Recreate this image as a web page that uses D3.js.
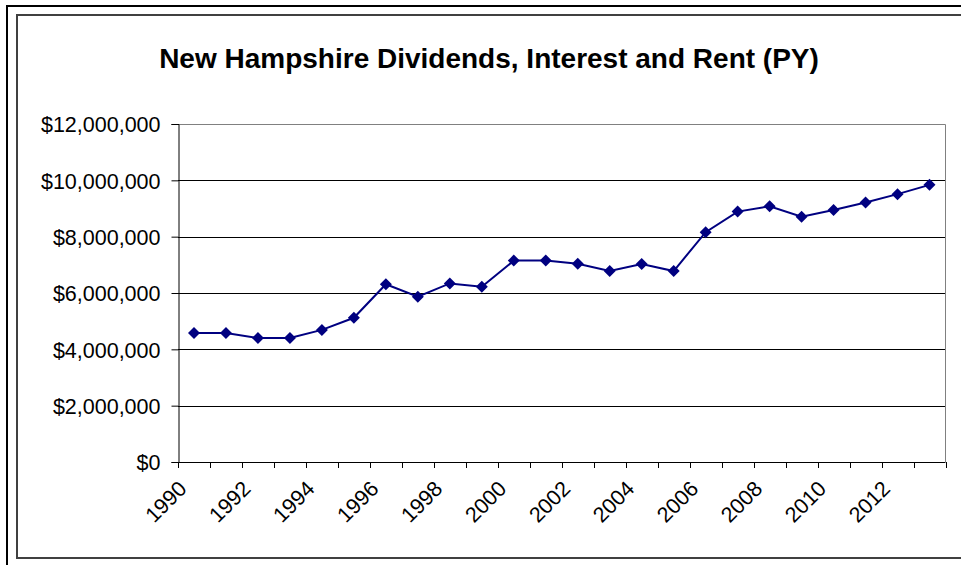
<!DOCTYPE html>
<html>
<head>
<meta charset="utf-8">
<script src="https://cdn.jsdelivr.net/npm/d3@7"></script>
<style>
  html, body { margin: 0; padding: 0; background: #fff; }
  svg { display: block; }
  text { font-family: "Liberation Sans", Arial, sans-serif; fill: #000; }
</style>
</head>
<body>
<svg id="chart" width="961" height="565"></svg>
<script>
// Personal income component, New Hampshire, 1990-2013 (dollars, thousands)
const years = [1990, 1991, 1992, 1993, 1994, 1995, 1996, 1997, 1998, 1999, 2000, 2001,
               2002, 2003, 2004, 2005, 2006, 2007, 2008, 2009, 2010, 2011, 2012, 2013];
const values = [4580000, 4580000, 4400000, 4400000, 4690000, 5120000, 6310000, 5870000,
                6340000, 6220000, 7150000, 7150000, 7040000, 6780000, 7030000, 6780000,
                8160000, 8890000, 9080000, 8710000, 8950000, 9210000, 9510000, 9840000];
const yTicks = [0, 2000000, 4000000, 6000000, 8000000, 10000000, 12000000];
const xLabelYears = [1990, 1992, 1994, 1996, 1998, 2000, 2002, 2004, 2006, 2008, 2010, 2012];
const title = "New Hampshire Dividends, Interest and Rent (PY)";

const svg = d3.select("#chart");
const W = 961, H = 565;

// outer page frame and chart-area frame (both run past the right/bottom edges)
svg.append("rect").attr("x", 7).attr("y", 6).attr("width", W + 20).attr("height", H + 20)
  .attr("fill", "none").attr("stroke", "#000").attr("stroke-width", 2);
svg.append("rect").attr("x", 17).attr("y", 15).attr("width", W + 20).attr("height", 543)
  .attr("fill", "#fff").attr("stroke", "#404040").attr("stroke-width", 2);

const plot = { left: 178, right: 945.5, top: 124, bottom: 462 };

const x = d3.scaleBand().domain(years).range([plot.left, plot.right]).paddingInner(0).paddingOuter(0);
const y = d3.scaleLinear().domain([0, 12000000]).range([plot.bottom, plot.top]);
const cx = d => x(d) + x.bandwidth() / 2;

// title
svg.append("text")
  .attr("x", 489).attr("y", 68)
  .attr("text-anchor", "middle")
  .style("font-size", "28px").style("font-weight", "bold")
  .text(title);

// horizontal gridlines
svg.append("g").selectAll("line")
  .data(yTicks.filter(t => t > 0 && t < 12000000))
  .join("line")
  .attr("x1", plot.left).attr("x2", plot.right)
  .attr("y1", d => Math.round(y(d)) + 0.5).attr("y2", d => Math.round(y(d)) + 0.5)
  .attr("stroke", "#000").attr("stroke-width", 1);

// plot-area border (top and right)
svg.append("path")
  .attr("d", `M${plot.left},${plot.top + 0.5}H${plot.right}V${plot.bottom}`)
  .attr("fill", "none").attr("stroke", "#808080").attr("stroke-width", 1);

// y axis
const yAxis = d3.axisLeft(y).tickValues(yTicks).tickSize(7).tickPadding(11)
  .tickFormat(d => "$" + d3.format(",")(d));
const gy = svg.append("g").attr("transform", `translate(${plot.left + 0.5},0)`).call(yAxis);
gy.select(".domain").attr("stroke", "#000");
gy.selectAll(".tick line").attr("stroke", "#000");
gy.selectAll(".tick text")
  .style("font-size", "21.5px")
  .attr("font-family", null)
  .attr("dy", "0.36em");

// x axis: ticks at every category boundary
const boundaries = years.map(d => x(d)).concat([plot.right]);
const gx = svg.append("g");
gx.append("line")
  .attr("x1", plot.left).attr("x2", plot.right)
  .attr("y1", plot.bottom + 0.5).attr("y2", plot.bottom + 0.5)
  .attr("stroke", "#000");
gx.selectAll("line.tk").data(boundaries).join("line").attr("class", "tk")
  .attr("x1", d => Math.round(d) + 0.5).attr("x2", d => Math.round(d) + 0.5)
  .attr("y1", plot.bottom).attr("y2", plot.bottom + 6)
  .attr("stroke", "#000");
gx.selectAll("text").data(xLabelYears).join("text")
  .attr("transform", d => `translate(${cx(d) - 6},${plot.bottom + 28}) rotate(-45)`)
  .attr("text-anchor", "end")
  .style("font-size", "21.5px")
  .text(d => d);

// series line
const line = d3.line().x((d, i) => cx(years[i])).y(d => y(d));
svg.append("path").datum(values)
  .attr("d", line)
  .attr("fill", "none").attr("stroke", "#000080").attr("stroke-width", 2);

// diamond markers
const diamond = d3.symbol().type(d3.symbolSquare).size(72);
svg.append("g").selectAll("path").data(values).join("path")
  .attr("d", diamond)
  .attr("transform", (d, i) => `translate(${cx(years[i])},${y(d)}) rotate(45)`)
  .attr("fill", "#000080");
</script>
</body>
</html>
